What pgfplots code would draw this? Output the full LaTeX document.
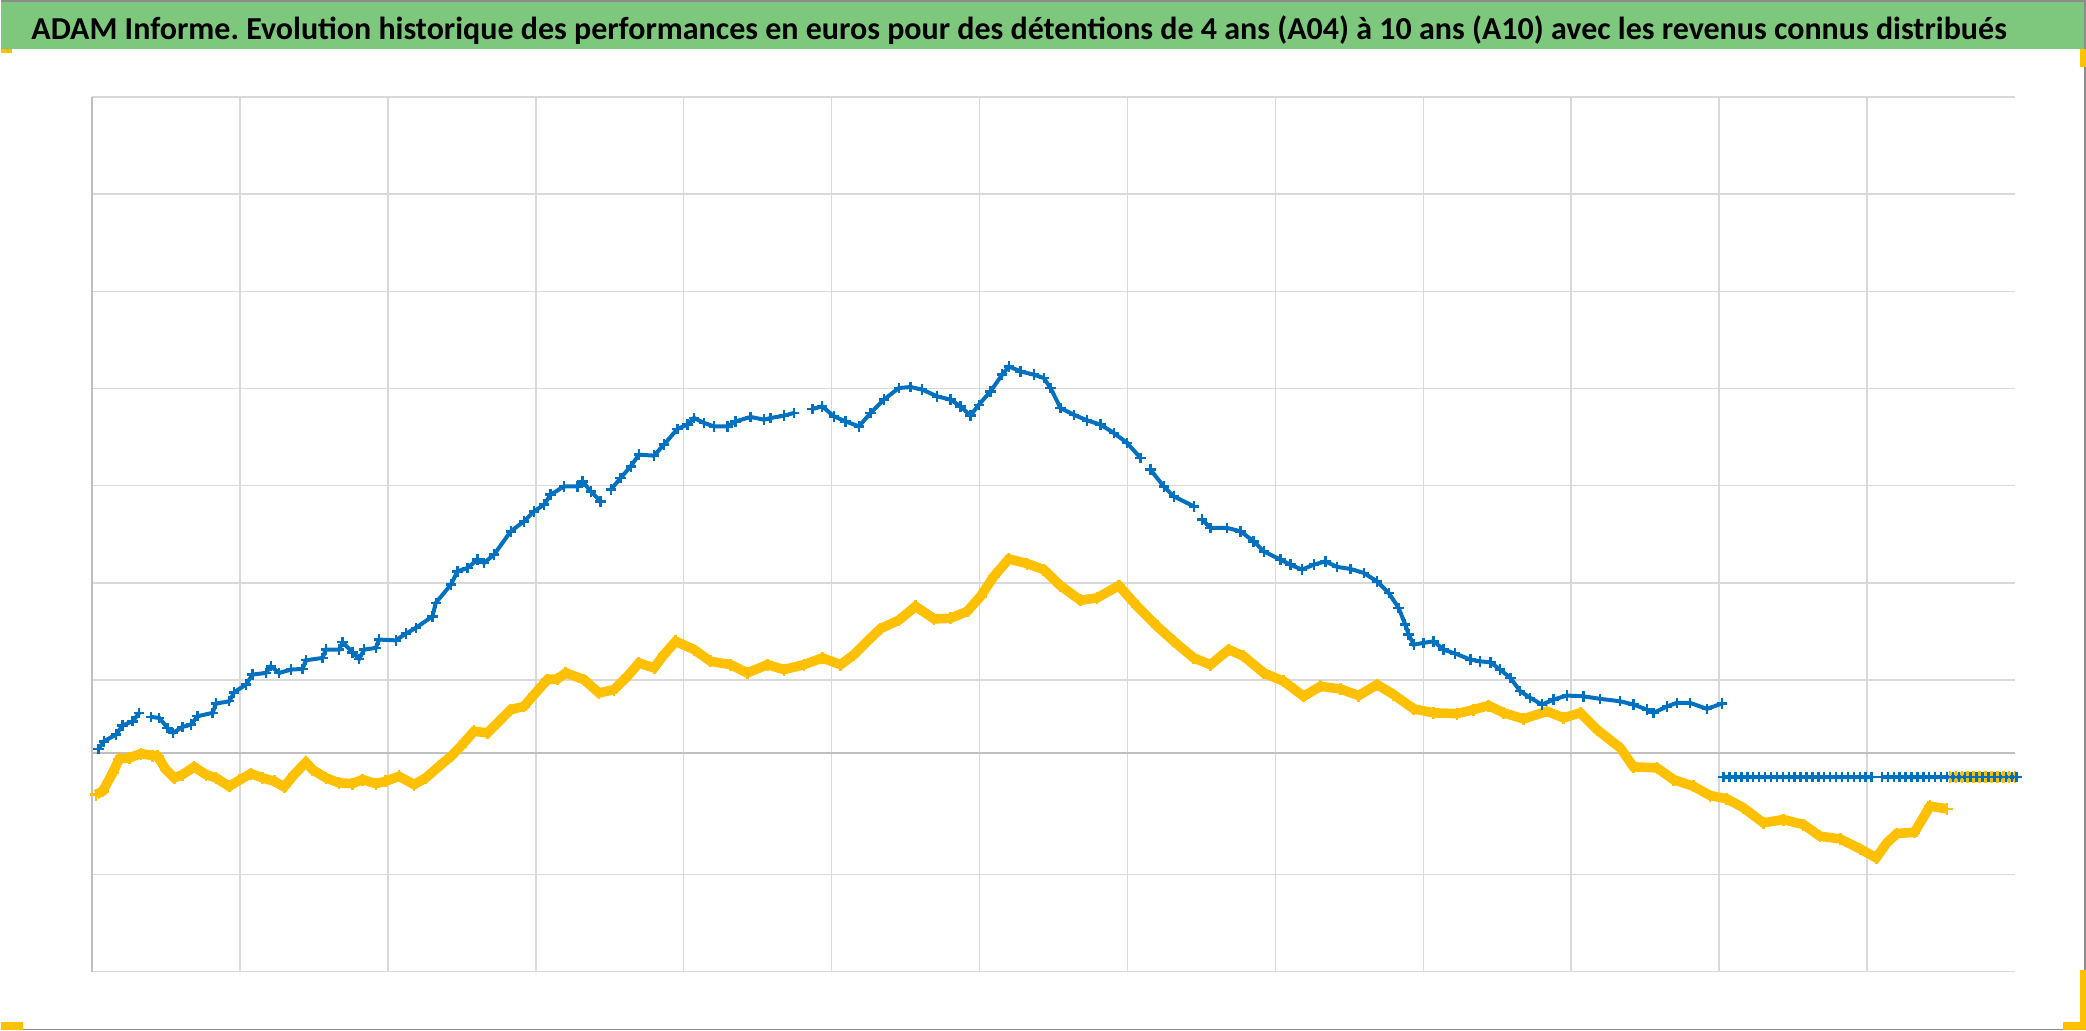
\documentclass[border=0pt]{standalone}
\usepackage{fontspec}
\setmainfont{Carlito}
\usepackage{pgfplots}
\pgfplotsset{compat=1.18}
\pgfdeclarelayer{background}
\pgfsetlayers{background,main}
\definecolor{xlblue}{RGB}{0,112,192}
\definecolor{xlyellow}{RGB}{255,192,0}
\definecolor{titlegreen}{RGB}{126,200,126}
\definecolor{gridgray}{RGB}{217,217,217}
\definecolor{axisgray}{RGB}{191,191,191}
\definecolor{framegray}{RGB}{140,140,140}
\frenchspacing
\begin{document}
\begin{tikzpicture}
\begin{axis}[
  name=ax, at={(0pt,0pt)}, anchor=south west,
  scale only axis, width=962pt, height=437.5pt,
  xmin=0, xmax=13, ymin=0, ymax=9,
  xtick={1,...,12}, ytick={0,1,3,4,5,6,7,8,9},
  xticklabels={}, yticklabels={},
  major tick length=0pt,
  grid=major, major grid style={draw=gridgray, line width=0.8pt},
  axis line style={draw=none},
  extra x ticks={0}, extra y ticks={2.25},
  extra x tick labels={}, extra y tick labels={},
  extra tick style={grid=major, major grid style={draw=axisgray, line width=1pt}},
  clip=false,
  unbounded coords=jump,
]
% A04 (yellow)
\addplot[xlyellow, line width=4.8pt, mark=+, mark size=3pt, mark options={line width=1.3pt}] coordinates {
(0.027,1.821) (0.072,1.855) (0.140,2.044) (0.184,2.188) (0.252,2.199) (0.331,2.243) (0.410,2.222) (0.444,2.215)
(0.500,2.078) (0.556,1.993) (0.613,2.027) (0.691,2.106) (0.770,2.027) (0.838,1.993) (0.928,1.906) (0.995,1.968)
(1.074,2.037) (1.153,1.993) (1.232,1.958) (1.299,1.900) (1.367,2.027) (1.446,2.153) (1.491,2.078) (1.581,1.993)
(1.671,1.941) (1.761,1.934) (1.829,1.975) (1.919,1.934) (1.986,1.958) (2.076,2.009) (2.178,1.924) (2.257,1.993)
(2.347,2.112) (2.432,2.222) (2.493,2.318) (2.583,2.472) (2.674,2.456) (2.741,2.559) (2.831,2.695) (2.921,2.729)
(2.989,2.850) (3.079,3.004) (3.147,3.011) (3.203,3.073) (3.326,3.004) (3.428,2.867) (3.529,2.901) (3.620,3.038)
(3.698,3.176) (3.799,3.124) (3.867,3.261) (3.946,3.398) (4.070,3.313) (4.182,3.192) (4.318,3.158) (4.430,3.073)
(4.566,3.158) (4.678,3.107) (4.813,3.158) (4.937,3.227) (5.061,3.158) (5.151,3.261) (5.241,3.398) (5.331,3.529)
(5.455,3.616) (5.568,3.758) (5.692,3.629) (5.804,3.635) (5.917,3.707) (6.007,3.861) (6.097,4.067) (6.198,4.246)
(6.322,4.198) (6.434,4.136) (6.547,3.971) (6.682,3.820) (6.795,3.845) (6.941,3.971) (7.066,3.758) (7.201,3.552)
(7.313,3.398) (7.448,3.227) (7.561,3.158) (7.685,3.313) (7.786,3.244) (7.921,3.073) (8.056,2.987) (8.191,2.832)
(8.304,2.935) (8.439,2.908) (8.563,2.840) (8.687,2.953) (8.799,2.850) (8.935,2.703) (9.070,2.662) (9.228,2.654)
(9.340,2.695) (9.441,2.737) (9.543,2.662) (9.678,2.600) (9.836,2.678) (9.948,2.610) (10.061,2.662) (10.174,2.490)
(10.331,2.301) (10.421,2.106) (10.579,2.096) (10.691,1.975) (10.826,1.906) (10.939,1.811) (11.051,1.777) (11.162,1.687)
(11.299,1.530) (11.434,1.564) (11.570,1.512) (11.682,1.392) (11.818,1.365) (11.953,1.262) (12.061,1.170) (12.133,1.324)
(12.201,1.420) (12.320,1.433) (12.425,1.701) (12.541,1.674) (12.55,nan)
(12.56,2.0) (12.60,2.0) (12.64,2.0) (12.68,2.0) (12.72,2.0) (12.76,2.0) (12.80,2.0) (12.84,2.0) (12.88,2.0) (12.92,2.0) (12.96,2.0) (13.00,2.0)
};
% A10 (blue)
\addplot[xlblue, line width=2pt, mark=+, mark size=2.6pt, mark options={line width=1.2pt}] coordinates {
(0.045,2.291) (0.081,2.369) (0.162,2.438) (0.207,2.531) (0.275,2.575) (0.320,2.662) (0.36,nan)
(0.399,2.620) (0.455,2.610) (0.511,2.507) (0.549,2.456) (0.613,2.518) (0.669,2.541) (0.714,2.627) (0.816,2.662)
(0.838,2.757) (0.928,2.781) (0.961,2.873) (1.041,2.953) (1.086,3.056) (1.176,3.073) (1.209,3.141) (1.266,3.073)
(1.345,3.107) (1.424,3.114) (1.446,3.203) (1.559,3.227) (1.581,3.313) (1.671,3.313) (1.694,3.388) (1.761,3.285)
(1.806,3.217) (1.840,3.313) (1.919,3.330) (1.941,3.416) (2.054,3.408) (2.122,3.477) (2.189,3.536) (2.302,3.655)
(2.324,3.793) (2.426,3.981) (2.471,4.118) (2.539,4.153) (2.606,4.239) (2.651,4.205) (2.718,4.290) (2.831,4.530)
(2.921,4.633) (2.989,4.736) (3.056,4.805) (3.101,4.907) (3.191,4.993) (3.282,4.993) (3.316,5.044) (3.372,4.941)
(3.439,4.838) (3.47,nan)
(3.507,4.959) (3.574,5.079) (3.642,5.199) (3.698,5.319) (3.799,5.309) (3.867,5.422) (3.957,5.583) (4.025,5.628)
(4.070,5.697) (4.137,5.645) (4.205,5.610) (4.295,5.610) (4.351,5.661) (4.453,5.707) (4.543,5.679) (4.588,5.696)
(4.678,5.720) (4.745,5.748) (4.80,nan) (4.870,5.789) (4.937,5.816) (5.016,5.713) (5.095,5.661) (5.184,5.610)
(5.264,5.748) (5.353,5.885) (5.455,6.005) (5.534,6.015) (5.613,5.988) (5.714,5.919) (5.804,5.885) (5.872,5.816)
(5.939,5.720) (5.995,5.833) (6.074,5.970) (6.153,6.142) (6.198,6.227) (6.277,6.176) (6.367,6.142) (6.434,6.108)
(6.480,6.005) (6.547,5.799) (6.637,5.730) (6.728,5.672) (6.818,5.628) (6.908,5.542) (6.998,5.439) (7.088,5.285)
(7.12,nan)
(7.155,5.165) (7.245,4.993) (7.313,4.890) (7.448,4.787) (7.48,nan)
(7.505,4.650) (7.561,4.565) (7.674,4.565) (7.764,4.530) (7.853,4.427) (7.921,4.324) (8.034,4.239) (8.101,4.187)
(8.180,4.136) (8.259,4.187) (8.338,4.221) (8.417,4.164) (8.507,4.143) (8.597,4.102) (8.687,4.015) (8.766,3.896)
(8.833,3.742) (8.878,3.570) (8.901,3.467) (8.935,3.364) (9.002,3.382) (9.070,3.398) (9.137,3.313) (9.216,3.272)
(9.318,3.210) (9.385,3.192) (9.453,3.182) (9.520,3.107) (9.588,3.022) (9.655,2.884) (9.723,2.816) (9.802,2.747)
(9.880,2.798) (9.970,2.840) (10.083,2.832) (10.196,2.806) (10.331,2.781) (10.421,2.747) (10.512,2.695) (10.557,2.662)
(10.647,2.729) (10.714,2.764) (10.804,2.764) (10.917,2.703) (11.018,2.757) (11.025,nan)
(11.03,2.0) (11.07,2.0) (11.11,2.0) (11.15,2.0) (11.19,2.0) (11.23,2.0) (11.27,2.0) (11.31,2.0) (11.35,2.0)
(11.39,2.0) (11.43,2.0) (11.47,2.0) (11.51,2.0) (11.55,2.0) (11.59,2.0) (11.63,2.0) (11.67,2.0) (11.71,2.0)
(11.75,2.0) (11.79,2.0) (11.83,2.0) (11.87,2.0) (11.91,2.0) (11.95,2.0) (11.99,2.0) (12.03,2.0) (12.065,nan)
(12.10,2.0) (12.14,2.0) (12.18,2.0) (12.22,2.0) (12.26,2.0) (12.30,2.0) (12.34,2.0) (12.38,2.0) (12.42,2.0)
(12.46,2.0) (12.50,2.0) (12.54,2.0) (12.58,2.0) (12.62,2.0) (12.66,2.0) (12.70,2.0) (12.74,2.0) (12.78,2.0)
(12.82,2.0) (12.86,2.0) (12.90,2.0) (12.94,2.0) (12.98,2.0) (13.01,2.0)
};
\end{axis}
\begin{scope}[shift={(-45.5pt,-29.5pt)}, x=1pt, y=1pt]
\begin{pgfonlayer}{background}
\fill[white] (0,0) rectangle (1043,515.5);
\end{pgfonlayer}
\fill[titlegreen] (0,491) rectangle (1042,515.5);
\draw[framegray, line width=1pt] (0,515) -- (1042.5,515) -- (1042.5,0.5) -- (0,0.5);
\node[anchor=base west, inner sep=0, font=\fontsize{16}{19}\selectfont\bfseries] at (15,495.8) {ADAM Informe. Evolution historique des performances en euros pour des détentions de 4 ans (A04) à 10 ans (A10) avec les revenus connus distribués};
\fill[xlyellow] (0,489) rectangle (5.5,491);
\fill[xlyellow] (0,0.5) rectangle (11,4.5);
\fill[xlyellow] (1040,0.5) rectangle (1043,30.5);
\fill[xlyellow] (1031.5,0.5) rectangle (1043,4.5);
\fill[xlyellow] (1040,482) rectangle (1043,491);
\end{scope}
\end{tikzpicture}
\end{document}
